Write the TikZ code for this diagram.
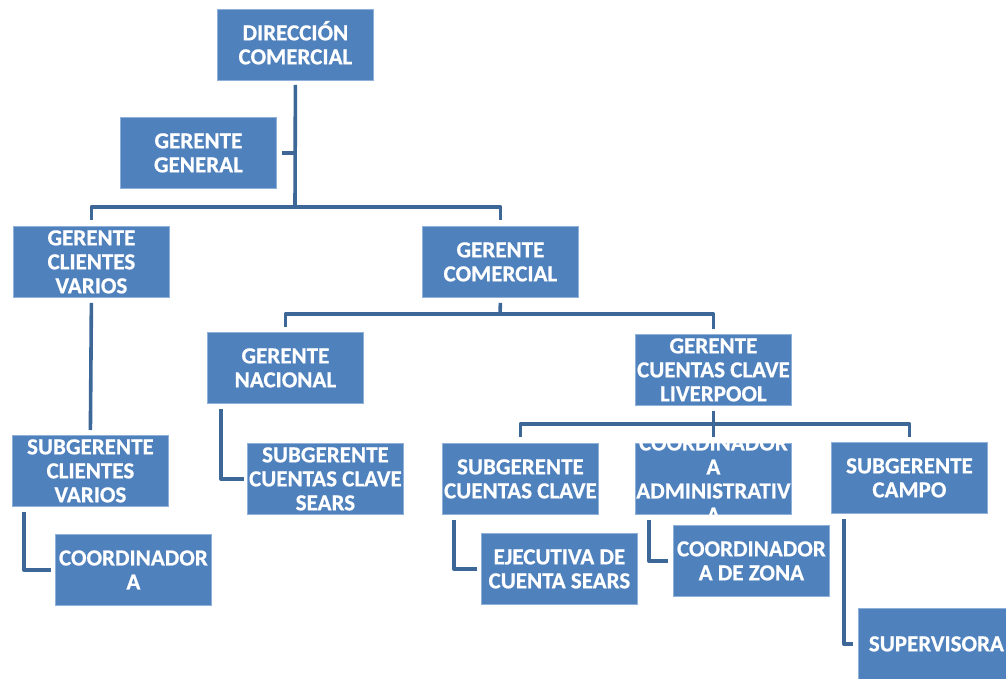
\documentclass[tikz,border=0pt]{standalone}
\usepackage{fontspec}
\setmainfont{Carlito}[BoldFeatures={FakeBold=0.6}]
\usetikzlibrary{calc}

\definecolor{boxblue}{HTML}{4F81BD}
\definecolor{boxedge}{HTML}{8FB0D8}
\definecolor{linkblue}{HTML}{3C6796}

\tikzset{
  orgbox/.style={rectangle, fill=boxblue, draw=boxedge, line width=0.8pt,
    minimum width=156pt, minimum height=71pt, inner sep=0pt, anchor=north west},
  orgtext/.style={text=white, align=center, inner sep=0pt,
    font=\fontsize{23}{24}\selectfont\bfseries},
  link/.style={draw=linkblue, line width=3.6pt, line join=round}
}

% box with its caption: name, left, top (pixels), caption
\newcommand\orgunit[4]{%
  \node[orgbox] (#1) at (#2,-#3) {};
  \node[orgtext] (#1-t) at (#1.center) {#4};}

\begin{document}
\begin{tikzpicture}[x=1pt,y=1pt]
\useasboundingbox (0,0) rectangle (1006,-679);

% boxes
\orgunit{dir}{217}{9}{DIRECCI\smash{Ó}N\\COMERCIAL}
\orgunit{gg}{120}{117}{GERENTE\\GENERAL}
\orgunit{gcv}{13}{226}{GERENTE\\CLIENTES\\VARIOS}
\orgunit{gc}{422}{226}{GERENTE\\COMERCIAL}
\orgunit{gn}{207}{332}{GERENTE\\NACIONAL}
\orgunit{gccl}{635}{334}{GERENTE\\CUENTAS CLAVE\\LIVERPOOL}
\orgunit{scv}{12}{435}{SUBGERENTE\\CLIENTES\\VARIOS}
\orgunit{coord}{55}{534}{COORDINADOR\\A}
\orgunit{sccs}{247}{443}{SUBGERENTE\\CUENTAS CLAVE\\SEARS}
\orgunit{scc}{442}{443}{SUBGERENTE\\CUENTAS CLAVE}
\orgunit{scamp}{831}{442}{SUBGERENTE\\CAMPO}
\orgunit{ejec}{481}{533}{EJECUTIVA DE\\CUENTA SEARS}
\orgunit{cz}{673}{525}{COORDINADOR\\A DE ZONA}
\orgunit{sup}{858}{608}{SUPERVISORA}

% caption that runs past its box, cut at the box edges
\node[orgbox] (caa) at (635,-443) {};
\begin{scope}
  \clip (caa.south west) rectangle (caa.north east);
  \node[orgtext] (caa-t) at (caa.center) {COORDINADOR\\A\\ADMINISTRATIV\\A};
\end{scope}

% top level
\coordinate (bus1) at (295,-207);
\draw[link] ([yshift=-4pt]dir.south) -- (bus1);
\draw[link] ([xshift=5pt]gg.east) -- (dir.south |- gg.east);
\draw[link] ([yshift=6pt]gcv.north) -- (gcv.north |- bus1) -- (gc.north |- bus1) -- ([yshift=6pt]gc.north);

% clientes varios branch
\draw[link] ([yshift=-5pt]gcv.south) -- ([yshift=5pt]scv.north);
\draw[link] ([xshift=12pt,yshift=-5pt]scv.south west) |- ([xshift=-4pt]coord.west);

% gerente comercial branch
\coordinate (bus2) at (500,-314);
\draw[link] ([yshift=-5pt]gc.south) -- (bus2);
\draw[link] ([yshift=5pt]gn.north) -- (gn.north |- bus2) -- (gccl.north |- bus2) -- ([yshift=5pt]gccl.north);
\draw[link] ([xshift=14pt,yshift=-5pt]gn.south west) |- ([xshift=-3pt]sccs.west);

% cuentas clave liverpool branch
\coordinate (bus3) at (713,-424);
\draw[link] ([yshift=-5pt]gccl.south) -- ([yshift=6pt]caa.north);
\draw[link] ([yshift=6pt]scc.north) -- (scc.north |- bus3) -- (scamp.north |- bus3) -- ([yshift=5pt]scamp.north);
\draw[link] ([xshift=12pt,yshift=-5pt]scc.south west) |- ([xshift=-4pt]ejec.west);
\draw[link] ([xshift=14pt,yshift=-5pt]caa.south west) |- ([xshift=-5pt]cz.west);
\draw[link] ([xshift=13pt,yshift=-5pt]scamp.south west) |- ([xshift=-5pt]sup.west);
\end{tikzpicture}
\end{document}
